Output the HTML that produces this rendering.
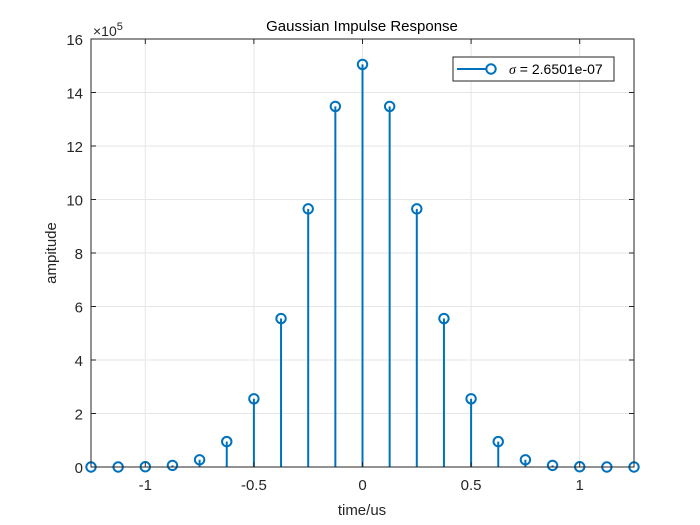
<!DOCTYPE html>
<html><head><meta charset="utf-8"><style>
body{margin:0;background:#fff;}
svg{display:block;font-family:"Liberation Sans",Arial,sans-serif;}
</style></head><body>
<svg id="chart" width="700" height="525" viewBox="0 0 700 525" xmlns="http://www.w3.org/2000/svg">
<rect width="700" height="525" fill="#fff"/>
<g id="grid"></g>
<g id="marks"></g>
<g id="axes"></g>
</svg>
<script>
const times = [-1.25,-1.125,-1,-0.875,-0.75,-0.625,-0.5,-0.375,-0.25,-0.125,0,0.125,0.25,0.375,0.5,0.625,0.75,0.875,1,1.125,1.25];
const amplitudes = [0,0,0.01,0.06,0.27,0.95,2.55,5.55,9.65,13.48,15.05,13.48,9.65,5.55,2.55,0.95,0.27,0.06,0.01,0,0];
const xTicks = [-1,-0.5,0,0.5,1];
const xTickLabels = ['-1','-0.5','0','0.5','1'];
const yTicks = [0,2,4,6,8,10,12,14,16];
const yTickLabels = ['0','2','4','6','8','10','12','14','16'];

const L=91,R=634,T=39,B=467, xmin=-1.25,xmax=1.25,ymin=0,ymax=16;
const sx=v=>L+(v-xmin)/(xmax-xmin)*(R-L);
const sy=v=>B-(v-ymin)/(ymax-ymin)*(B-T);
const NS='http://www.w3.org/2000/svg';
function mk(tag,attrs,parent){const e=document.createElementNS(NS,tag);for(const k in attrs)e.setAttribute(k,attrs[k]);parent.appendChild(e);return e;}
const grid=document.getElementById('grid'),marks=document.getElementById('marks'),axes=document.getElementById('axes');

xTicks.forEach((v,i)=>{
  const gl=mk('line',{x1:sx(v),x2:sx(v),y1:T,y2:B,stroke:'#e6e6e6','stroke-width':1},grid);
  
  
  mk('line',{x1:sx(v),x2:sx(v),y1:B,y2:B-5,stroke:'#262626'},axes);
  mk('line',{x1:sx(v),x2:sx(v),y1:T,y2:T+5,stroke:'#262626'},axes);
  const t=mk('text',{x:sx(v),y:B+23,'text-anchor':'middle','font-size':15,fill:'#262626'},axes);
  t.textContent=xTickLabels[i];
  
  
});
yTicks.forEach((v,i)=>{
  const gl=mk('line',{x1:L,x2:R,y1:sy(v),y2:sy(v),stroke:'#e6e6e6','stroke-width':1},grid);
  
  
  mk('line',{x1:L,x2:L+5,y1:sy(v),y2:sy(v),stroke:'#262626'},axes);
  mk('line',{x1:R,x2:R-5,y1:sy(v),y2:sy(v),stroke:'#262626'},axes);
  const t=mk('text',{x:L-8,y:sy(v)+6,'text-anchor':'end','font-size':15,fill:'#262626'},axes);
  t.textContent=yTickLabels[i];
  
  
});
const box=mk('rect',{x:L,y:T,width:R-L,height:B-T,fill:'none',stroke:'#262626','stroke-width':1},axes);



times.forEach((t,i)=>{
  const x=sx(t),y=sy(amplitudes[i]);
  const s=mk('line',{x1:x,x2:x,y1:sy(0),y2:y,stroke:'#0072BD','stroke-width':2},marks);
  
  
  const c=mk('circle',{cx:x,cy:y,r:4.7,fill:'none',stroke:'#0072BD','stroke-width':2},marks);
  
  
});

const title=mk('text',{x:362,y:31,'text-anchor':'middle','font-size':15,fill:'#000'},axes);
title.textContent='Gaussian Impulse Response';


const xl=mk('text',{x:362,y:515,'text-anchor':'middle','font-size':15,fill:'#262626'},axes);
xl.textContent='time/us';


const yl=mk('text',{x:0,y:0,'text-anchor':'middle','font-size':15,fill:'#262626',transform:'translate(56,253) rotate(-90)'},axes);
yl.textContent='ampitude';


const ex=mk('text',{x:93,y:36,'font-size':14,fill:'#262626'},axes);
ex.innerHTML='×10<tspan dy="-6" font-size="11">5</tspan>';



const lg=mk('g',{},axes);


mk('rect',{x:453,y:57,width:161,height:24,fill:'#fff',stroke:'#262626','stroke-width':1},lg);
mk('line',{x1:457,x2:491,y1:69,y2:69,stroke:'#0072BD','stroke-width':2},lg);
mk('circle',{cx:491,cy:69,r:4.7,fill:'#fff',stroke:'#0072BD','stroke-width':2},lg);
const lt=mk('text',{x:509,y:74,'font-size':14,fill:'#000'},lg);
lt.innerHTML='<tspan font-family="Liberation Serif,serif" font-style="italic">σ</tspan> = 2.6501e-07';


</script>
</body></html>
